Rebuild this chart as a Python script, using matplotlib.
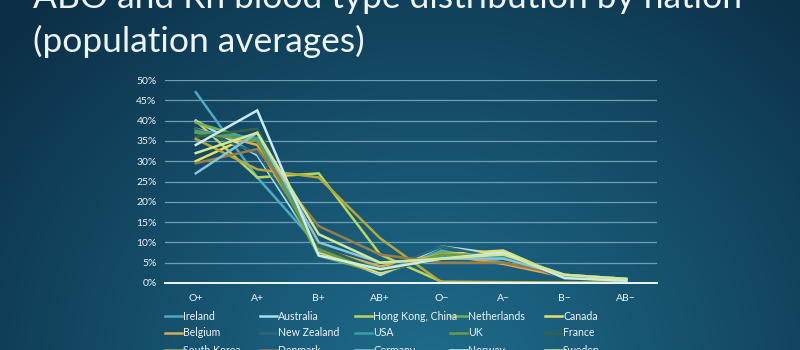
import numpy as np
import matplotlib
matplotlib.use("Agg")
import matplotlib.pyplot as plt
from matplotlib.lines import Line2D

plt.rcParams["font.family"] = ["Lato", "DejaVu Sans"]

# ---------- data ----------------------------------------------------------
categories = ["O+", "A+", "B+", "AB+", "O\u2212", "A\u2212", "B\u2212", "AB\u2212"]

countries = ["Ireland", "Australia", "Hong Kong, China", "Netherlands", "Canada",
             "Belgium", "New Zealand", "USA", "UK", "France",
             "South Korea", "Denmark", "Germany", "Norway", "Sweden"]

# percent of population per blood type
ireland     = [47.0, 26.0, 9.0, 2.0, 8.0, 5.0, 2.0, 1.0]
australia   = [40.0, 31.5, 8.0, 2.0, 9.0, 7.0, 2.0, 1.0]
hong_kong   = [40.0, 26.0, 27.0, 7.0, 0.3, 0.2, 0.1, 0.05]
netherlands = [39.5, 35.0, 6.7, 2.5, 7.5, 7.0, 1.3, 0.5]
canada      = [30.0, 37.0, 7.6, 2.5, 7.0, 8.0, 1.4, 0.5]
belgium     = [38.0, 34.0, 8.5, 4.1, 7.0, 4.7, 1.5, 0.8]
new_zealand = [38.0, 32.0, 9.0, 3.0, 9.0, 6.0, 2.0, 1.0]
usa         = [37.4, 35.7, 8.5, 3.4, 6.6, 6.3, 1.5, 0.6]
uk          = [37.0, 35.0, 8.0, 3.0, 7.0, 7.0, 2.0, 1.0]
france      = [36.0, 38.0, 9.0, 3.0, 6.0, 7.0, 1.0, 1.0]
south_korea = [35.5, 28.0, 26.0, 11.0, 0.1, 0.1, 0.1, 0.05]
denmark     = [29.5, 33.0, 14.0, 7.0, 5.0, 5.0, 2.0, 1.0]
germany     = [27.0, 37.0, 10.0, 5.0, 6.0, 6.0, 2.0, 1.0]
norway      = [34.0, 42.5, 6.8, 3.4, 6.0, 7.5, 1.2, 0.6]
sweden      = [32.0, 37.0, 12.0, 5.0, 6.0, 7.0, 2.0, 1.0]

series = [ireland, australia, hong_kong, netherlands, canada,
          belgium, new_zealand, usa, uk, france,
          south_korea, denmark, germany, norway, sweden]

colors = ["#4fa9c5", "#a6dff0", "#b9d65e", "#7aad4c", "#e6de6a",
          "#d6ad52", "#2b6778", "#35a3a6", "#6f9b45", "#35634a",
          "#b5a83a", "#9a7c45", "#86c4d6", "#c9ecf4", "#d3e693"]

yticks = [0, 5, 10, 15, 20, 25, 30, 35, 40, 45, 50]

TXT = "#eef4f7"

# ---------- figure + radial background -----------------------------------
fig = plt.figure(figsize=(8, 3.5), dpi=100)

bg = fig.add_axes([0, 0, 1, 1], zorder=-10)
bg.axis("off")
H, W = 350, 800
yy, xx = np.mgrid[0:H, 0:W]
d = np.hypot((xx - 430) / 1.0, (yy - 370) / 0.9)
t = np.clip(d / 560, 0, 1) ** 1.1
c_in = np.array([0x1e, 0x6b, 0x8a]) / 255
c_out = np.array([0x0c, 0x2f, 0x47]) / 255
img = c_in[None, None, :] * (1 - t[..., None]) + c_out[None, None, :] * t[..., None]
bg.imshow(img, extent=[0, 1, 0, 1], aspect="auto", origin="upper")
bg.set_xlim(0, 1)
bg.set_ylim(0, 1)

# title (top line runs off the top edge)
fig.text(33 / W, 1 - 8 / H, "ABO and Rh blood type distribution by nation",
         fontsize=25.5, color=TXT, ha="left", va="baseline")
fig.text(33 / W, 1 - 52 / H, "(population averages)",
         fontsize=25.5, color=TXT, ha="left", va="baseline")

# ---------- line chart ----------------------------------------------------
ax = fig.add_axes([165 / W, 1 - 283 / H, 492 / W, 203 / H])
ax.patch.set_alpha(0)

x = np.arange(len(categories))
for vals, col in zip(series, colors):
    ax.plot(x, vals, color=col, lw=1.8, solid_joinstyle="miter", zorder=3)

ax.set_xlim(-0.5, len(categories) - 0.5)
ax.set_ylim(0, 50)
ax.set_yticks(yticks)
ax.set_yticklabels([f"{v}%" for v in yticks])
ax.set_xticks(x)
ax.set_xticklabels(categories)
ax.tick_params(axis="both", length=0, colors=TXT, labelsize=7.5)
ax.tick_params(axis="y", pad=6)
ax.tick_params(axis="x", pad=8)

ax.grid(axis="y", color="#6d9fb6", lw=0.9, zorder=0)
for side in ["top", "right", "left"]:
    ax.spines[side].set_visible(False)
ax.spines["bottom"].set_color("#f2f6f8")
ax.spines["bottom"].set_linewidth(1.4)
ax.spines["bottom"].set_zorder(4)

# ---------- legend: 5 columns, filled row by row --------------------------
for i, (name, col) in enumerate(zip(countries, colors)):
    row, colno = divmod(i, 5)
    x0 = (165 + 95 * colno) / W
    y0 = 1 - (316 + 17 * row) / H
    fig.add_artist(Line2D([x0, x0 + 17 / W], [y0, y0], color=col, lw=1.8,
                          transform=fig.transFigure))
    fig.text(x0 + 18 / W, y0, name, fontsize=7.6, color=TXT,
             ha="left", va="center")

fig.savefig("out.png", dpi=100)
